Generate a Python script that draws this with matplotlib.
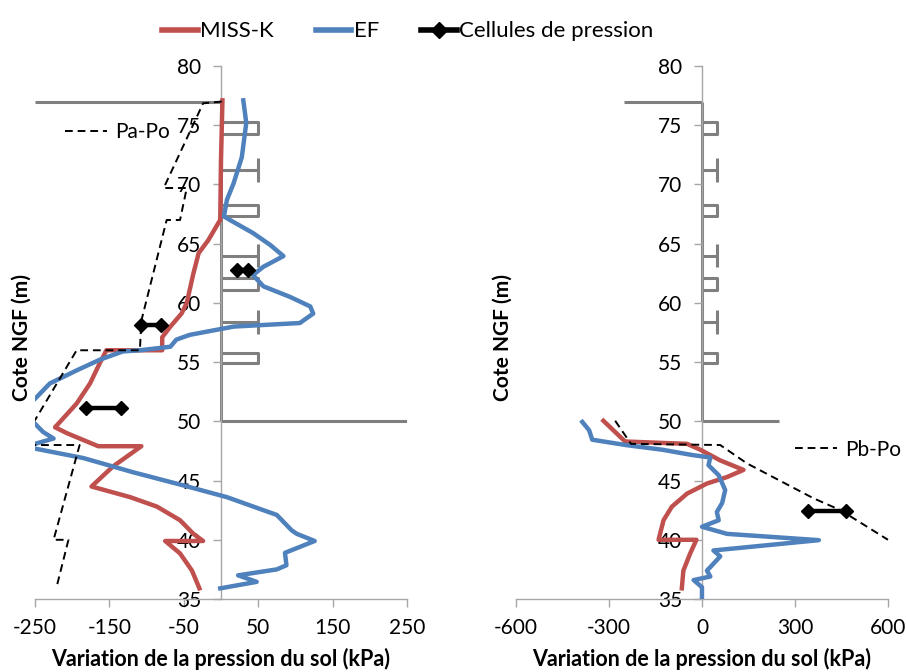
import numpy as np
import matplotlib
matplotlib.use("Agg")
import matplotlib.pyplot as plt
from matplotlib.lines import Line2D

plt.rcParams['font.family'] = ['Lato', 'DejaVu Sans']
plt.rcParams['axes.unicode_minus'] = False

# couleurs des series
red = '#C0504D'
blue = '#4F81BD'
grey = '#7F7F7F'

# ---- graphe A (gauche) ----
missk_a_x = [2, 0, -1, -3, -17, -30, -37, -46, -53, -68, -79, -79, -154, -163, -176, -194,
             -223, -207, -165, -107, -145, -174, -122, -86, -55, -37, -24, -75, -55, -39, -29]
missk_a_y = [77.1, 72.0, 67.0, 66.8, 65.3, 64.2, 62.5, 60.0, 59.1, 58.0, 57.1, 56.0, 56.0, 54.9, 53.2, 51.5,
             49.5, 49.0, 47.9, 47.9, 46.2, 44.5, 43.6, 42.8, 41.65, 40.5, 39.9, 39.9, 38.85, 37.4, 35.9]

ef_a_x = [30, 34, 28, 17, 8, 4, 12, 43, 66, 84, 57, 43, 57, 93, 120, 124, 106, 17, -42, -60,
          -68, -109, -132, -163, -194, -230, -250, -275, -250, -239, -225, -250, -270, -250,
          -185, -118, -51, 8, 57, 75, 95, 102, 126, 86, 88, 75, 23, 48, -1]
ef_a_y = [77.1, 75.2, 72.3, 70.1, 68.7, 67.3, 67.0, 65.9, 64.9, 63.95, 63.05, 62.35, 61.4, 60.5, 59.7, 59.1, 58.3, 58.0, 57.3, 56.9,
          56.3, 56.0, 55.9, 55.2, 54.3, 53.2, 51.9, 50.8, 49.8, 49.1, 48.55, 48.1, 47.9, 47.7,
          46.9, 45.7, 44.6, 43.6, 42.5, 42.1, 40.8, 40.5, 39.9, 38.9, 37.85, 37.5, 37.0, 36.45, 35.9]

pa_x = [1, -24, -77, -46, -55, -73, -107, -109, -194, -250, -265, -265, -190, -225, -205, -221]
pa_y = [77.0, 76.85, 69.7, 69.7, 67.0, 67.0, 58.5, 56.0, 56.0, 50.1, 49.0, 48.0, 48.0, 40.0, 40.0, 36.0]

cells_a_x = [[22, 36], [-108, -80], [-182, -134]]
cells_a_y = [62.8, 58.1, 51.15]

# ---- graphe B (droite) ----
missk_b_x = [-318, -248, -48, -5, 59, 134, 81, 16, -48, -97, -124, -140, -18, -38, -60, -65]
missk_b_y = [50.05, 48.3, 48.1, 47.6, 46.7, 45.9, 45.3, 44.75, 43.9, 42.8, 41.65, 40.0, 40.0, 38.85, 37.4, 35.9]

ef_b_x = [-386, -364, -354, -246, -127, -30, 27, 21, 54, 75, 65, 48, 54, 0, 81, 377,
          37, 59, 27, 16, 27, -27, 0, 0]
ef_b_y = [49.95, 49.25, 48.45, 48.0, 47.6, 47.15, 46.95, 46.3, 45.45, 44.2, 43.1, 42.35, 41.65, 41.1, 40.5, 39.97,
          39.1, 38.6, 37.7, 37.4, 36.9, 36.6, 36.0, 35.0]

pb_x = [-280, -229, 59, 145, 360, 447, 600]
pb_y = [50.05, 48.1, 48.0, 46.45, 43.5, 42.5, 40.0]

cells_b_x = [[341, 465]]
cells_b_y = [42.4]

# ---- ouvrage (paroi + tirants), en kPa / m ----
wall_top = 77.0
wall_base = 50.0
slab_x = [-250, 0]
base_x = [0, 250]
anchor_len = 50
rect_top = [75.3, 68.3, 62.1, 55.8]
rect_bot = [74.3, 67.3, 61.1, 54.9]
tie_y = [71.2, 64.0, 58.4]


def draw_wall(ax):
    kw = dict(color=grey, lw=2.2, zorder=1, solid_capstyle='butt')
    ax.plot(slab_x, [wall_top, wall_top], **kw)
    ax.plot([0, 0], [wall_top, wall_base], **kw)
    ax.plot(base_x, [wall_base, wall_base], **kw)
    for t, b in zip(rect_top, rect_bot):
        ax.plot([0, anchor_len, anchor_len, 0], [t, t, b, b], **kw)
    for y in tie_y:
        ax.plot([0, anchor_len], [y, y], **kw)
        ax.plot([anchor_len, anchor_len], [y - 1.0, y + 1.0], **kw)


def setup_axes(ax, xmin, xmax, xticks):
    ax.set_xlim(xmin, xmax)
    ax.set_ylim(35, 80)
    ax.set_xticks(xticks)
    ax.set_yticks(np.arange(35, 81, 5))
    ax.spines['top'].set_visible(False)
    ax.spines['right'].set_visible(False)
    ax.spines['left'].set_position(('data', 0))
    for s in ['left', 'bottom']:
        ax.spines[s].set_color('#A6A6A6')
        ax.spines[s].set_linewidth(1.0)
    ax.tick_params(axis='both', direction='out', length=6, width=1.0, color='#A6A6A6',
                   labelsize=15, pad=8)
    ax.set_xlabel("Variation de la pression du sol (kPa)", fontsize=15.5, fontweight='bold')
    ax.xaxis.set_label_coords(0.5, -0.092)
    ax.set_ylabel("Cote NGF (m)", fontsize=15, fontweight='bold')
    ax.yaxis.set_label_coords(-0.008, 0.49)


def draw_cells(ax, xs, ys):
    for x, y in zip(xs, ys):
        ax.plot(x, [y, y], color='black', lw=3.2, marker='D', ms=7.5, zorder=5)


fig = plt.figure(figsize=(9.06, 6.72), dpi=100)
ax1 = fig.add_axes([0.0386, 0.1086, 0.4106, 0.7932])
ax2 = fig.add_axes([0.5695, 0.1086, 0.4106, 0.7932])

# gauche
draw_wall(ax1)
ax1.plot(missk_a_x, missk_a_y, color=red, lw=3.2, zorder=3)
ax1.plot(ef_a_x, ef_a_y, color=blue, lw=3.2, zorder=3)
d1, = ax1.plot(pa_x, pa_y, color='black', lw=1.4, ls=(0, (4, 2.5)), zorder=4, label='Pa-Po')
draw_cells(ax1, cells_a_x, cells_a_y)
setup_axes(ax1, -250, 250, [-250, -150, -50, 50, 150, 250])
ax1.legend(handles=[d1], loc='center left', bbox_to_anchor=(0.03, 0.876), frameon=False,
           fontsize=15, handlelength=2.0, handletextpad=0.4)

# droite
draw_wall(ax2)
ax2.plot(missk_b_x, missk_b_y, color=red, lw=3.2, zorder=3)
ax2.plot(ef_b_x, ef_b_y, color=blue, lw=3.2, zorder=3)
d2, = ax2.plot(pb_x, pb_y, color='black', lw=1.4, ls=(0, (4, 2.5)), zorder=4, label='Pb-Po', clip_on=False)
draw_cells(ax2, cells_b_x, cells_b_y)
setup_axes(ax2, -600, 600, [-600, -300, 0, 300, 600])
ax2.legend(handles=[d2], loc='center left', bbox_to_anchor=(0.70, 0.28), frameon=False,
           fontsize=15, handlelength=2.0, handletextpad=0.4)

# legende generale
h1 = Line2D([], [], color=red, lw=4)
h2 = Line2D([], [], color=blue, lw=4)
h3 = Line2D([], [], color='black', lw=4, marker='D', ms=8)
fig.legend(handles=[h1, h2, h3], labels=['MISS-K', 'EF', 'Cellules de pression'],
           loc='upper center', bbox_to_anchor=(0.45, 0.998), ncol=3, frameon=False,
           fontsize=16, handlelength=1.6, handletextpad=0.1, columnspacing=1.9)

plt.savefig("out.png", dpi=100)
